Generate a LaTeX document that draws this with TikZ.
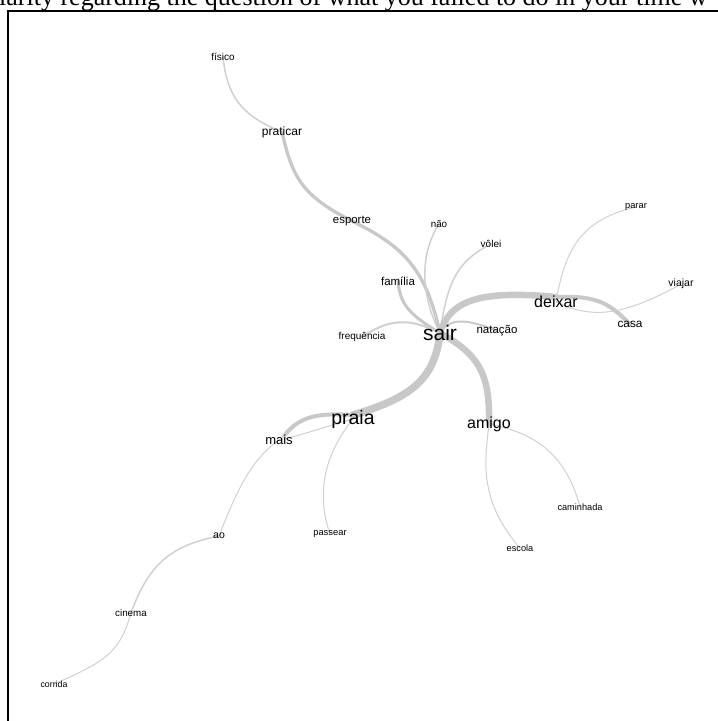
\documentclass[tikz,border=0pt]{standalone}
\usepackage{fontspec}
\setmainfont{Liberation Sans}
\newfontfamily\headserif{Liberation Serif}
\usetikzlibrary{backgrounds}
\definecolor{edgegray}{RGB}{200,200,200}
\definecolor{thingray}{RGB}{208,208,208}
\begin{document}
\begin{tikzpicture}[x=1pt,y=-1pt,
  wlabel/.style={inner sep=0pt, text=black, font=\fontsize{#1}{#1}\selectfont},
  link/.style={draw=edgegray, line width=#1, line cap=round},
  thin link/.style={draw=thingray, line width=#1, line cap=round}]
\useasboundingbox (0,0) rectangle (718,721);
\clip (0,0) rectangle (718,721);
% heading fragment and frame
\node[anchor=base west, inner sep=0pt, font=\headserif\fontsize{26}{26}\selectfont] (head) at (-1,5.5) {larity regarding the question of what you failed to do in your time w};
\coordinate (fbl) at (8,740);
\coordinate (ftl) at (8,11);
\coordinate (ftr) at (740,11);
\draw[line width=2pt, black] (fbl) -- (ftl) -- (ftr);
% words
\node[wlabel=10]   (fisico)     at (223,57)  {físico};
\node[wlabel=12]   (praticar)   at (282,132) {praticar};
\node[wlabel=11.4] (esporte)    at (352,221) {esporte};
\node[wlabel=9.8]  (nao)        at (439,224) {não};
\node[wlabel=10]   (volei)      at (491,244) {vôlei};
\node[wlabel=11.5] (familia)    at (398,281) {família};
\node[wlabel=10]   (frequencia) at (362,337) {frequência};
\node[wlabel=21]   (sair)       at (440,333) {sair};
\node[wlabel=11.5] (natacao)    at (497,331) {natação};
\node[wlabel=16]   (deixar)     at (556,302) {deixar};
\node[wlabel=9.3]  (parar)      at (636,207) {parar};
\node[wlabel=10.5] (viajar)     at (681,284) {viajar};
\node[wlabel=11.8] (casa)       at (630,324) {casa};
\node[wlabel=19.5] (praia)      at (353,419) {praia};
\node[wlabel=16]   (amigo)      at (489,424) {amigo};
\node[wlabel=13]   (mais)       at (279,440) {mais};
\node[wlabel=9.4]  (passear)    at (330,534) {passear};
\node[wlabel=9.2]  (caminhada)  at (580,507) {caminhada};
\node[wlabel=9.2]  (escola)     at (520,548) {escola};
\node[wlabel=10.5] (ao)         at (219,536) {ao};
\node[wlabel=9.8]  (cinema)     at (131,613) {cinema};
\node[wlabel=8.8]  (corrida)    at (54,684)  {corrida};
% connectors
\begin{pgfonlayer}{background}
\path[thin link=1.5] (fisico.center) .. controls (227,95) and (240,115) .. (praticar.center);
\path[link=3.3] (praticar.center) .. controls (292,175) and (300,195) .. (esporte.center);
\path[link=3.3] (esporte.center) .. controls (400,245) and (425,265) .. (sair.center);
\path[thin link=1.5] (nao.center) .. controls (422,250) and (418,290) .. (sair.center);
\path[thin link=1.5] (volei.center) .. controls (455,262) and (447,285) .. (sair.center);
\path[link=3] (familia.center) .. controls (400,305) and (410,315) .. (sair.center);
\path[thin link=2] (frequencia.center) .. controls (390,318) and (410,318) .. (sair.center);
\path[link=2] (sair.center) .. controls (450,318) and (465,318) .. (natacao.center);
\path[link=6.5] (sair.center) .. controls (450,300) and (480,290) .. ([yshift=5pt]deixar.center);
\path[link=4] ([yshift=5pt]deixar.center) .. controls (600,295) and (610,305) .. (casa.center);
\path[thin link=1] (deixar.center) .. controls (565,250) and (580,220) .. (parar.center);
\path[thin link=1] (deixar.center) .. controls (590,318) and (620,318) .. (viajar.center);
\path[link=7.5] (sair.center) .. controls (435,380) and (410,398) .. ([yshift=4pt]praia.center);
\path[link=4] ([yshift=4pt]praia.center) .. controls (320,413) and (300,415) .. ([shift={(5pt,4pt)}]mais.center);
\path[thin link=1] (praia.center) .. controls (320,428) and (300,436) .. (mais.center);
\path[thin link=1] (mais.center) .. controls (250,460) and (235,495) .. (ao.center);
\path[thin link=1] (praia.center) .. controls (320,460) and (318,500) .. (passear.center);
\path[link=6.5] (sair.center) .. controls (480,355) and (490,375) .. (amigo.center);
\path[thin link=1] (amigo.center) .. controls (485,460) and (478,500) .. (escola.center);
\path[thin link=1] (amigo.center) .. controls (530,432) and (565,450) .. (caminhada.center);
\path[thin link=1.5] (ao.center) .. controls (175,545) and (150,560) .. (cinema.center);
\path[thin link=1] (cinema.center) .. controls (120,650) and (110,660) .. (corrida.center);
\end{pgfonlayer}
\end{tikzpicture}
\end{document}
